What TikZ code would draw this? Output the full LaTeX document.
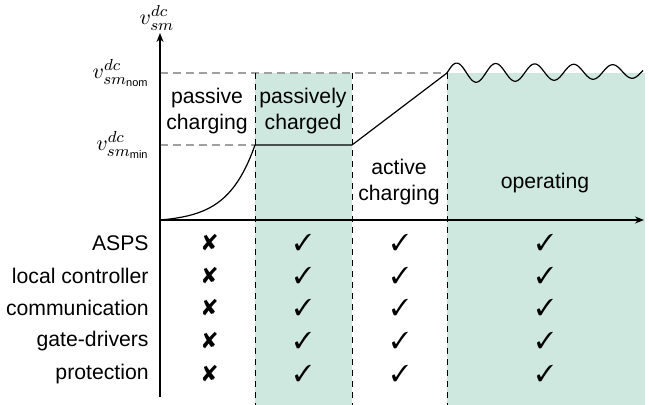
\documentclass[tikz,border=0pt]{standalone}
\usepackage{fontspec}
\setmainfont{Liberation Sans}
\setsansfont{Liberation Sans}
\usepackage{pifont}
\usetikzlibrary{arrows.meta}
\definecolor{phasefill}{HTML}{CFE8DF}
\definecolor{levelgray}{HTML}{A0A0A0}
\tikzset{
  axisline/.style={line width=0.7pt, -{Stealth[length=4.5pt,width=3.5pt]}},
  levelline/.style={levelgray, line width=0.6pt, dash pattern=on 4pt off 2.5pt},
  phaseline/.style={black, line width=0.5pt, dash pattern=on 3pt off 2.5pt},
  voltage/.style={line width=0.6pt, line join=round},
  rowlabel/.style={anchor=east, inner sep=0pt},
  phaselabel/.style={align=center, inner sep=0pt},
  tick/.style={inner sep=0pt, font=\fontsize{11.5}{12}\selectfont},
  level/.style={anchor=east, inner sep=0pt, font=\fontsize{11}{12}\selectfont},
}
\newcommand{\yes}{\ding{51}}
\newcommand{\no}{\ding{56}}
\begin{document}
\begin{tikzpicture}[x=0.5pt, y=-0.5pt, font=\fontsize{10.6}{12.9}\selectfont]
\useasboundingbox (0,0) rectangle (649,405);

% shaded phases
\fill[phasefill] (255,73) rectangle (352,405);
\fill[phasefill] (447,73) rectangle (645,405);

% voltage levels
\draw[levelline] (160,73) -- (447,73);
\draw[levelline] (160,145) -- (255,145);

% phase boundaries
\foreach \x/\n in {255/b1, 352/b2, 447/b3}
  \draw[phaseline] (\x,73) coordinate (\n top) -- (\x,405) coordinate (\n bot);

% axes
\coordinate (origin) at (160,220);
\coordinate (ybot) at (160,397);
\coordinate (ytop) at (160,33);
\coordinate (xend) at (644,220);
\draw[axisline] (ybot) -- (ytop);
\draw[axisline] (origin) -- (xend);

% sub-module voltage trajectory
\draw[voltage]
  plot[domain=0:1, samples=40, variable=\t]
    ({160+95*\t},{220-75*(exp(3.5*\t)-1)/(exp(3.5)-1)})
  -- (352,145) -- (447,73)
  -- plot[domain=0:196, samples=160, variable=\s]
    ({447+\s},{73-0.00765*\s-(10-0.01786*\s)*sin(9.2308*\s)});

% axis labels
\node[font=\fontsize{11}{12}\selectfont] (vaxis) at (157,18) {$v^{dc}_{sm}$};
\node[level] (vnom) at (150,73) {$v^{dc}_{sm_{\mathsf{nom}}}$};
\node[level] (vmin) at (150,145) {$v^{dc}_{sm_{\mathsf{min}}}$};

% phase names
\node[phaselabel] (pch) at (207,111) {passive\\charging};
\node[phaselabel] (pcd) at (303,111) {passively\\charged};
\node[phaselabel] (ach) at (399,182) {active\\charging};
\node[phaselabel] (opr) at (545,183) {operating};

% availability table
\foreach \y/\n/\lab in {243/asps/ASPS, 276/lctl/local controller, 308/comm/communication, 341/gdrv/gate-drivers, 374/prot/protection} {
  \node[rowlabel] (\n) at (149,\y) {\lab};
  \node[tick] (\n-a) at (210,\y) {\no};
  \node[tick] (\n-b) at (303,\y) {\yes};
  \node[tick] (\n-c) at (400,\y) {\yes};
  \node[tick] (\n-d) at (545,\y) {\yes};
}
\end{tikzpicture}
\end{document}
